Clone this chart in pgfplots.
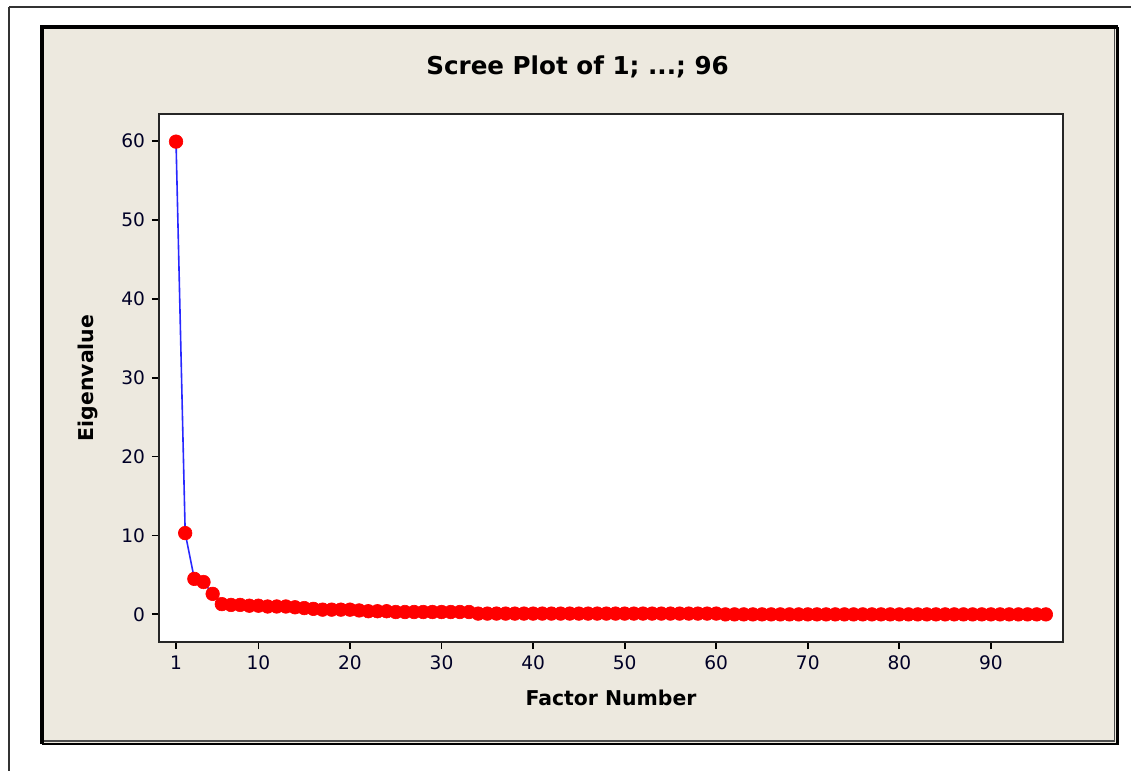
\documentclass[border=0pt]{standalone}
\usepackage{fontspec}
\setmainfont{DejaVu Sans}
\usepackage{pgfplots}
\pgfplotsset{compat=1.18}

\definecolor{panelbg}{RGB}{237,233,223}
\definecolor{scree}{RGB}{255,0,0}
\definecolor{screeline}{RGB}{40,40,255}

\begin{document}
\begin{tikzpicture}
  % frame and panel, 1 px of the reference = 0.5pt
  \begin{scope}[x=0.5pt,y=-0.5pt]
    \useasboundingbox (0,0) rectangle (1131,771);
    \draw[line width=1pt, black!80] (9,7) -- (1131,7);
    \draw[line width=1pt, black!80] (9,7) -- (9,771);
    \fill[panelbg] (42,27) rectangle (1117,744);
    \draw[line width=0.9pt, black!70] (1114.5,28) -- (1114.5,741) -- (43,741);
    \draw[line width=1.1pt, black] (1117.5,27) -- (1117.5,744) -- (42,744);
    \draw[line width=1.6pt, black] (42,744) -- (42,27) -- (1117.5,27);
  \end{scope}

  \begin{axis}[
    at={(79.5pt,-321pt)}, anchor=south west,
    scale only axis,
    width=452pt, height=264pt,
    xmin=-0.86, xmax=97.87,
    ymin=-3.5, ymax=63.4,
    xtick={1,10,20,30,40,50,60,70,80,90},
    ytick={0,10,20,30,40,50,60},
    tick align=outside,
    tick pos=left,
    major tick length=3.5pt,
    every tick/.style={black, line width=0.9pt},
    axis line style={line width=0.9pt, black!85},
    axis background/.style={fill=white},
    /pgf/number format/assume math mode=true,
    ticklabel style={font=\fontsize{9.3}{11}\selectfont, text=black!85!blue},
    title={Scree Plot of 1; ...; 96},
    title style={font=\fontsize{12.3}{14}\selectfont\bfseries,
      at={(axis description cs:0.463,1.066)}, anchor=center},
    xlabel={Factor Number},
    ylabel={Eigenvalue},
    xlabel style={font=\fontsize{10.2}{12}\selectfont\bfseries,
      at={(axis description cs:0.5,-0.106)}, anchor=center},
    ylabel style={font=\fontsize{10.2}{12}\selectfont\bfseries,
      at={(axis description cs:-0.0785,0.5)}, anchor=center},
  ]
    \addplot[
      color=screeline, line width=0.8pt,
      mark=*, mark size=3.4pt,
      mark options={fill=scree, draw=scree, line width=0.3pt},
    ]
    coordinates {
      (1,59.9)(2,10.3)(3,4.5)(4,4.1)(5,2.6)(6,1.3)(7,1.2)(8,1.2)
      (9,1.1)(10,1.1)(11,1.0)(12,1.0)(13,1.0)(14,0.9)(15,0.8)(16,0.7)
      (17,0.6)(18,0.6)(19,0.6)(20,0.6)(21,0.5)(22,0.4)(23,0.4)(24,0.4)
      (25,0.3)(26,0.3)(27,0.3)(28,0.3)(29,0.3)(30,0.3)(31,0.3)(32,0.3)
      (33,0.3)(34,0.1)(35,0.1)(36,0.1)(37,0.1)(38,0.1)(39,0.1)(40,0.1)
      (41,0.1)(42,0.1)(43,0.1)(44,0.1)(45,0.1)(46,0.1)(47,0.1)(48,0.1)
      (49,0.1)(50,0.1)(51,0.1)(52,0.1)(53,0.1)(54,0.1)(55,0.1)(56,0.1)
      (57,0.1)(58,0.1)(59,0.1)(60,0.1)(61,0.0)(62,0.0)(63,0.0)(64,0.0)
      (65,0.0)(66,0.0)(67,0.0)(68,0.0)(69,0.0)(70,0.0)(71,0.0)(72,0.0)
      (73,0.0)(74,0.0)(75,0.0)(76,0.0)(77,0.0)(78,0.0)(79,0.0)(80,0.0)
      (81,0.0)(82,0.0)(83,0.0)(84,0.0)(85,0.0)(86,0.0)(87,0.0)(88,0.0)
      (89,0.0)(90,0.0)(91,0.0)(92,0.0)(93,0.0)(94,0.0)(95,0.0)(96,0.0)
    };
  \end{axis}
\end{tikzpicture}
\end{document}
